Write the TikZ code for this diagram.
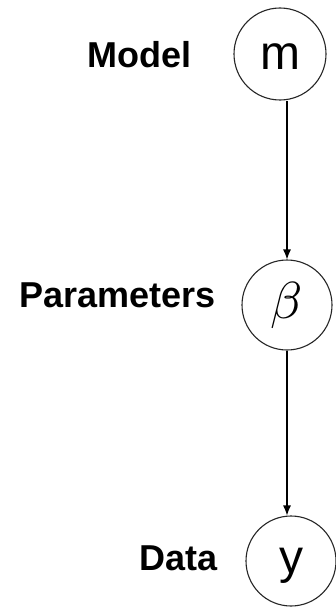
\documentclass[tikz,border=0pt]{standalone}
\usepackage{fontspec}
\setmainfont{Liberation Sans}
\usetikzlibrary{arrows.meta}
\begin{document}
\begin{tikzpicture}[x=1pt,y=-1pt,
  var/.style={draw=black!85,line width=1.1pt,circle,inner sep=0pt},
  lbl/.style={font=\fontsize{36}{40}\selectfont\bfseries,anchor=base east,inner sep=0pt},
  sym/.style={font=\fontsize{48}{50}\selectfont},
  edge/.style={line width=1.1pt,-{Latex[length=10pt,width=8pt]}}]
\useasboundingbox[fill=white] (0,0) rectangle (335,607);
\node[var,minimum size=92pt,sym,text height=31pt,text depth=0pt] (m) at (280,54) {m};
\node[var,minimum size=90pt] (b) at (287,305) {\scalebox{5.2}{$\beta$}};
\node[var,minimum size=90pt,sym,text height=35pt,text depth=10pt] (y) at (291,561) {y};
\node[lbl] (lm) at (192,68) {Model};
\node[lbl] (lb) at (216,307) {Parameters};
\node[lbl] (ly) at (218,570) {Data};
\draw[edge] (m.south -| b.center) -- (b.north);
\draw[edge] (b.south) -- (y.north -| b.center);
\end{tikzpicture}
\end{document}
